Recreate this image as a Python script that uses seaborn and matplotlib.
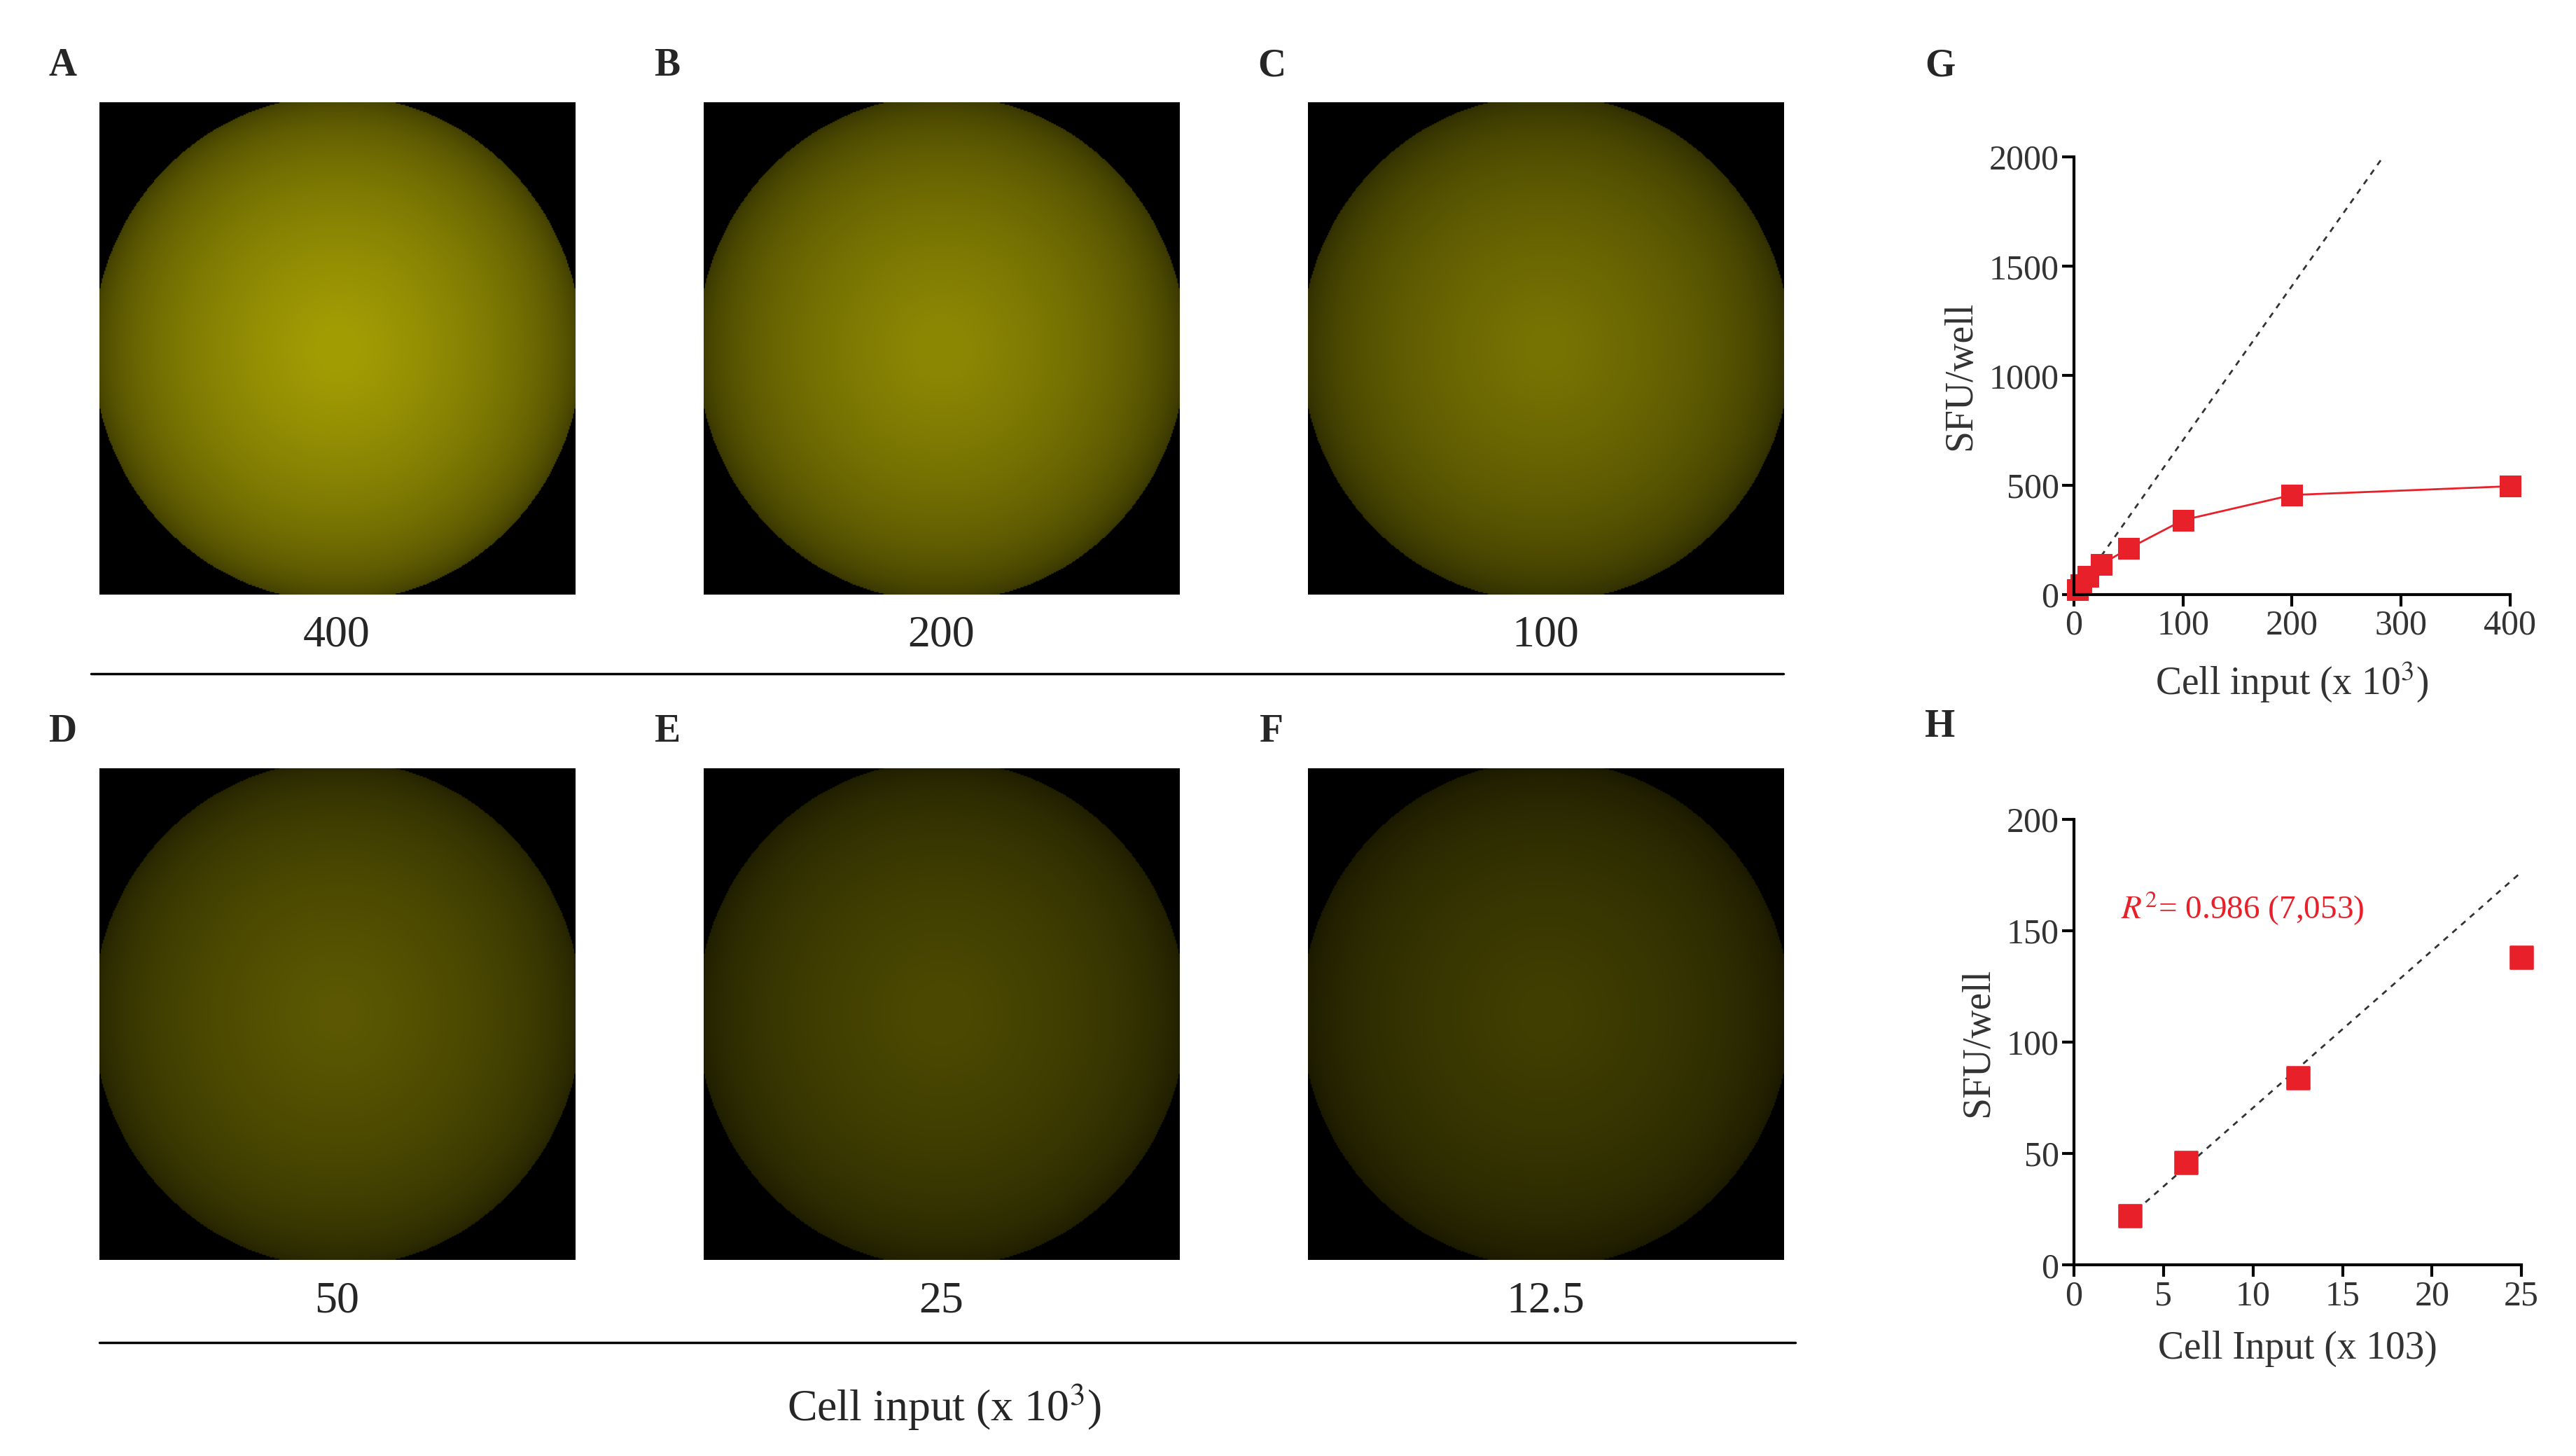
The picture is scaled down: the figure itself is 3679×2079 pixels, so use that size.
import numpy as np
import pandas as pd
import seaborn as sb
import matplotlib
matplotlib.use('Agg')
import matplotlib.pyplot as plt

### DATA
cell_input = [3.125, 6.25, 12.5, 25, 50, 100, 200, 400]
sfu_well = [22, 46, 84, 138, 210, 340, 455, 495]
slope = 7.053
well_labels = ['400', '200', '100', '50', '25', '12.5']
well_letters = ['A', 'B', 'C', 'D', 'E', 'F']
well_glow = [0.75, 0.65, 0.55, 0.42, 0.35, 0.3]

sb.set_style('white')
plt.rcParams['font.family'] = ['Liberation Serif', 'DejaVu Serif']
plt.rcParams['mathtext.fontset'] = 'stix'

W, H = 1560.0, 881.6
fig = plt.figure(figsize=(36.79, 20.79), dpi=100)

def box(x0, y0, x1, y1):
    return [x0 / W, 1 - y1 / H, (x1 - x0) / W, (y1 - y0) / H]

def ftext(x, y, s, **kw):
    fig.text(x / W, 1 - y / H, s, **kw)

### WELL IMAGES
yy, xx = np.mgrid[-1:1:400j, -1:1:400j]
rr = np.sqrt(xx ** 2 + yy ** 2)
lefts = [60, 426, 792]
tops = [62, 465]
for i, (lab, let, g) in enumerate(zip(well_labels, well_letters, well_glow)):
    x0 = lefts[i % 3]
    y0 = tops[i // 3]
    ax = fig.add_axes(box(x0, y0, x0 + 288, y0 + 298))
    inten = g * np.clip(1.08 - rr, 0, 1) ** 0.3 * (rr < 1.03)
    img = np.dstack([inten * 0.85, inten * 0.82, inten * 0.02])
    ax.imshow(np.clip(img, 0, 1), aspect='auto')
    ax.set_axis_off()
    ftext(x0 + 144, y0 + 323, lab, ha='center', va='center', fontsize=46)
    ftext(x0 - 22, y0 - 22, let, ha='center', va='center', fontsize=40, fontweight='bold')

fig.add_artist(plt.Line2D([55 / W, 1080 / W], [1 - 408 / H] * 2, color='black', lw=2.5))
fig.add_artist(plt.Line2D([60 / W, 1087 / W], [1 - 813 / H] * 2, color='black', lw=2.5))
ftext(572, 852, 'Cell input (x 10$^3$)', ha='center', va='center', fontsize=46)
ftext(1175, 40, 'G', ha='center', va='center', fontsize=40, fontweight='bold')
ftext(1175, 440, 'H', ha='center', va='center', fontsize=40, fontweight='bold')

df = pd.DataFrame({'x': cell_input, 'y': sfu_well})

def style(ax):
    sb.despine(ax=ax)
    for s in ['left', 'bottom']:
        ax.spines[s].set_linewidth(3)
        ax.spines[s].set_color('black')
    ax.tick_params(axis='both', length=12, width=3, labelsize=36, direction='out',
                   left=True, bottom=True, colors='black')
    for t in ax.get_xticklabels() + ax.get_yticklabels():
        t.set_color('#333333')
    ax.set_facecolor('white')

### PANEL G
axg = fig.add_axes(box(1256, 95, 1520, 360))
fit_g = np.array([25, 284])
axg.plot(fit_g, slope * fit_g, ls=(0, (3, 3)), color='#333333', lw=2)
sb.lineplot(data=df, x='x', y='y', ax=axg, color='#e8202a', lw=2, marker='s',
            markersize=22, markeredgecolor='#e8202a')
axg.set_xlim(0, 400)
axg.set_ylim(0, 2000)
axg.set_xticks([0, 100, 200, 300, 400])
axg.set_yticks([0, 500, 1000, 1500, 2000])
axg.set_xlabel('Cell input (x 10$^3$)', fontsize=40, labelpad=18, color='#333333')
axg.set_ylabel('SFU/well', fontsize=40, labelpad=10, color='#333333')
style(axg)
for art in axg.get_children():
    art.set_clip_on(False)

### PANEL H
axh = fig.add_axes(box(1256, 496, 1527, 766))
dfh = df[df['x'] <= 25]
fit_h = np.array([3.5, 25])
axh.plot(fit_h, slope * fit_h, ls=(0, (3, 3)), color='#333333', lw=2)
sb.scatterplot(data=dfh, x='x', y='y', ax=axh, color='#e8202a', marker='s', s=550,
               edgecolor='#e8202a', zorder=3, clip_on=False)
axh.set_xlim(0, 25)
axh.set_ylim(0, 200)
axh.set_xticks([0, 5, 10, 15, 20, 25])
axh.set_yticks([0, 50, 100, 150, 200])
axh.set_xlabel('Cell Input (x 103)', fontsize=40, labelpad=18, color='#333333')
axh.set_ylabel('SFU/well', fontsize=40, labelpad=10, color='#333333')
axh.text(2.6, 160, '$R^2$= 0.986 (7,053)', color='#e8202a', fontsize=34, va='center')
style(axh)

fig.savefig('out.png', dpi=100)
